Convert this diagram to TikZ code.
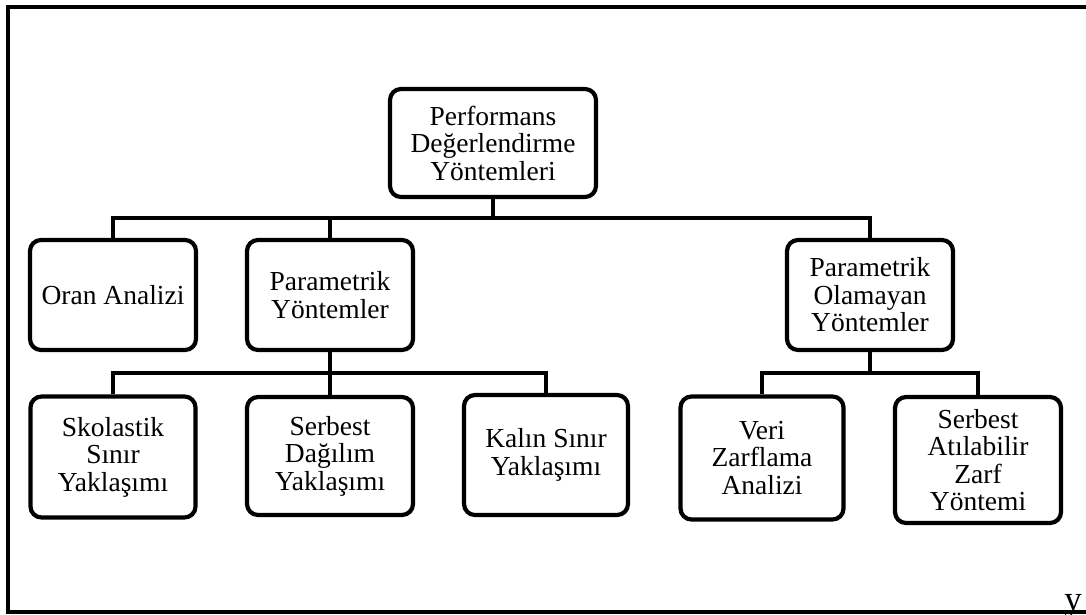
\documentclass[tikz,border=0pt]{standalone}
\usepackage{fontspec}
\setmainfont{Liberation Serif}
\begin{document}
\begin{tikzpicture}[x=1pt,y=-1pt,
  box/.style={draw,line width=4.2pt,rounded corners=11pt,align=center,
    inner sep=2pt,font=\fontsize{27.5}{27.5}\selectfont},
  link/.style={line width=4.2pt},
  frame/.style={line width=4pt}]
\useasboundingbox (0,0) rectangle (1086,615);
\begin{scope}
\clip (0,0) rectangle (1086,615);

% tree of methods
\node[box,minimum width=206pt,minimum height=108pt] (root) at (493,143)
  {Performans\\Değerlendirme\\Yöntemleri};
\node[box,minimum width=166pt,minimum height=110pt] (oran) at (113,295)
  {Oran Analizi};
\node[box,minimum width=166pt,minimum height=110pt] (pary) at (330,295)
  {Parametrik\\Yöntemler};
\node[box,minimum width=166pt,minimum height=110pt] (paro) at (870,295)
  {Parametrik\\Olamayan\\Yöntemler};
\node[box,minimum width=165pt,minimum height=121pt] (sko) at (113,457)
  {Skolastik\\Sınır\\Yaklaşımı};
\node[box,minimum width=166pt,minimum height=118pt] (serd) at (330,456)
  {Serbest\\Dağılım\\Yaklaşımı};
\node[box,minimum width=164pt,minimum height=120pt] (kal) at (546,455)
  {Kalın Sınır\\Yaklaşımı};
\node[box,minimum width=163pt,minimum height=123pt] (veri) at (762,458)
  {Veri\\Zarflama\\Analizi};
\node[box,minimum width=166pt,minimum height=126pt] (sera) at (978,460)
  {Serbest\\Atılabilir\\Zarf\\Yöntemi};

% junction points of the connector bars
\coordinate (b1) at (493,218);
\coordinate (b2) at (330,373);
\coordinate (b3) at (870,373);

\draw[link] (root.south) -- (b1);
\draw[link] (oran.north) -- (oran.north |- b1) -- (paro.north |- b1) -- (paro.north);
\draw[link] (pary.north) -- (pary.north |- b1);

\draw[link] (pary.south) -- (b2);
\draw[link] (sko.north) -- (sko.north |- b2) -- (kal.north |- b2) -- (kal.north);
\draw[link] (serd.north) -- (serd.north |- b2);

\draw[link] (paro.south) -- (b3);
\draw[link] (veri.north) -- (veri.north |- b3) -- (sera.north |- b3) -- (sera.north);

% corner mark and frame
\node[anchor=base,font=\fontsize{35}{35}\selectfont,inner sep=0pt] (ymark) at (1073,610) {y};
\coordinate (f1) at (1090,7);
\coordinate (f2) at (8,7);
\coordinate (f3) at (8,612);
\coordinate (f4) at (1090,612);
\draw[frame] (f1) -- (f2) -- (f3) -- (f4);
\end{scope}
\end{tikzpicture}
\end{document}
